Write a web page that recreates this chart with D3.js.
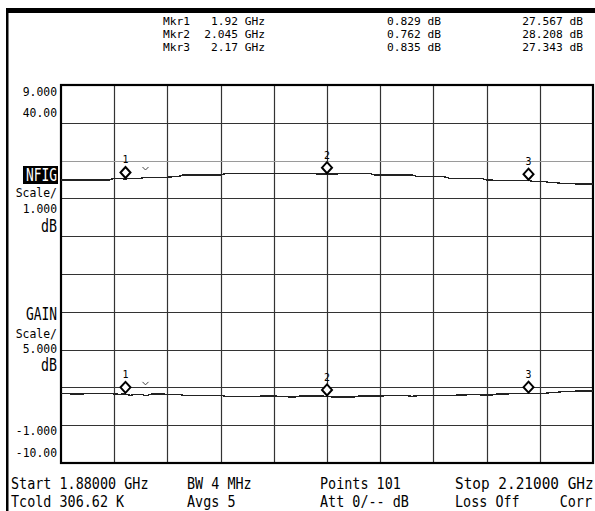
<!DOCTYPE html>
<html>
<head>
<meta charset="utf-8">
<script src="https://cdn.jsdelivr.net/npm/d3@7"></script>
<style>
  html, body { margin: 0; padding: 0; background: #fff; }
  svg { display: block; }
  text { font-family: "DejaVu Sans Mono", "Liberation Mono", monospace; fill: #000; }
</style>
</head>
<body>
<script>
// Sweep setup
const sweepStart = 1.88;   // GHz
const sweepStop = 2.21;    // GHz
const sweepPoints = 101;

// Noise figure trace (dB), one value per sweep point
const nfigTrace = [
  0.844, 0.844, 0.825, 0.825, 0.825, 0.844, 0.844, 0.835, 0.844, 0.844,
  0.825, 0.817, 0.825, 0.791, 0.817, 0.817, 0.780, 0.825, 0.825, 0.825,
  0.817, 0.817, 0.817, 0.791, 0.791, 0.791, 0.791, 0.791, 0.791, 0.791,
  0.791, 0.764, 0.764, 0.764, 0.764, 0.764, 0.764, 0.764, 0.772, 0.772,
  0.772, 0.764, 0.764, 0.746, 0.746, 0.772, 0.772, 0.772, 0.772, 0.772,
  0.762, 0.746, 0.746, 0.746, 0.746, 0.746, 0.772, 0.772, 0.772, 0.772,
  0.772, 0.780, 0.780, 0.780, 0.780, 0.780, 0.764, 0.780, 0.780, 0.780,
  0.791, 0.791, 0.791, 0.791, 0.791, 0.799, 0.799, 0.817, 0.817, 0.799,
  0.799, 0.799, 0.825, 0.825, 0.825, 0.844, 0.844, 0.835, 0.835, 0.844,
  0.844, 0.844, 0.860, 0.860, 0.886, 0.886, 0.886, 0.905, 0.905, 0.905,
  0.905
];

// Gain trace (dB), one value per sweep point
const gainTrace = [
  27.43, 27.43, 27.43, 27.43, 27.43, 27.43, 27.43, 27.43, 27.43, 27.43,
  27.66, 27.64, 27.57, 27.64, 27.66, 27.66, 27.80, 27.80, 27.80, 27.80,
  27.80, 27.87, 27.87, 28.10, 28.10, 28.10, 28.10, 28.10, 28.10, 28.10,
  28.10, 28.30, 28.30, 28.30, 28.30, 28.30, 28.30, 28.30, 28.30, 28.30,
  28.30, 28.30, 28.30, 28.30, 28.30, 28.30, 28.30, 28.28, 28.25, 28.22,
  28.21, 28.22, 28.25, 28.28, 28.30, 28.30, 28.30, 28.30, 28.30, 28.10,
  28.10, 28.10, 28.10, 28.10, 28.10, 28.10, 28.10, 27.87, 27.87, 27.87,
  27.87, 27.87, 27.87, 27.66, 27.66, 27.66, 27.66, 27.66, 27.66, 27.66,
  27.43, 27.43, 27.34, 27.34, 27.34, 27.34, 27.34, 27.34, 27.34, 27.21,
  27.21, 27.21, 27.08, 27.08, 27.00, 27.00, 27.00, 26.90, 26.90, 26.90,
  26.90
];

// Markers
const markerNames = ["Mkr1", "Mkr2", "Mkr3"];
const markerFreqs = [1.92, 2.045, 2.17];          // GHz
const markerFreqLabels = ["1.92 GHz", "2.045 GHz", "2.17 GHz"];
const markerNfig = [0.829, 0.762, 0.835];         // dB
const markerGain = [27.567, 28.208, 27.343];      // dB

// Vertical scales: NFIG ref 9.000, 1 dB/div; GAIN ref 40.00, 5 dB/div
const nfigScaleLabels = ["9.000", "-1.000"];
const gainScaleLabels = ["40.00", "-10.00"];
const nfigDomain = [-1, 9];
const gainDomain = [-10, 40];

// Status lines under the graticule
const statusRow1 = ["Start 1.88000 GHz", "BW 4 MHz", "Points 101", "Stop 2.21000 GHz"];
const statusRow2 = ["Tcold 306.62 K", "Avgs 5", "Att 0/-- dB", "Loss Off", "Corr"];

const W = 595, H = 511;
const plot = { left: 61, right: 593, top: 85, bottom: 463 };

const svg = d3.select("body").append("svg")
  .attr("width", W).attr("height", H)
  .attr("viewBox", `0 0 ${W} ${H}`);

svg.append("rect").attr("width", W).attr("height", H).attr("fill", "#fff");

// Screen frame (top bar + left edge)
svg.append("rect").attr("x", 6).attr("y", 8).attr("width", W - 6).attr("height", 5).attr("fill", "#000");
svg.append("rect").attr("x", 6).attr("y", 8).attr("width", 2.5).attr("height", H - 8).attr("fill", "#000");

const x = d3.scaleLinear().domain([sweepStart, sweepStop]).range([plot.left, plot.right]);
const yN = d3.scaleLinear().domain(nfigDomain).range([plot.bottom, plot.top]);
const yG = d3.scaleLinear().domain(gainDomain).range([plot.bottom, plot.top]);

const freqs = d3.range(sweepPoints).map(i => sweepStart + i * (sweepStop - sweepStart) / (sweepPoints - 1));

// Condensed text helper
function label(g, px, py, str, opt = {}) {
  const size = opt.size || 13, sx = opt.sx || 0.9;
  return g.append("text")
    .attr("transform", `translate(${px},${py}) scale(${sx},1)`)
    .attr("text-anchor", opt.anchor || "start")
    .style("font-size", size + "px")
    .style("fill", opt.fill || "#000")
    .text(str);
}

// Graticule
const grid = svg.append("g");
const xDivs = d3.range(11).map(i => sweepStart + i * (sweepStop - sweepStart) / 10);
const yDivs = d3.range(nfigDomain[0], nfigDomain[1] + 1);

grid.selectAll("line.v").data(xDivs.slice(1, -1)).join("line")
  .attr("x1", d => Math.round(x(d)) + 0.5).attr("x2", d => Math.round(x(d)) + 0.5)
  .attr("y1", plot.top).attr("y2", plot.bottom)
  .attr("stroke", "#333").attr("stroke-width", 1.2);

grid.selectAll("line.h").data(yDivs.slice(1, -1)).join("line")
  .attr("x1", plot.left).attr("x2", plot.right)
  .attr("y1", d => Math.round(yN(d)) + 0.5).attr("y2", d => Math.round(yN(d)) + 0.5)
  .attr("stroke", d => d === 7 ? "#9a9a9a" : "#333")
  .attr("stroke-width", d => d === 7 ? 1 : 1.2);

svg.append("rect")
  .attr("x", plot.left).attr("y", plot.top)
  .attr("width", plot.right - plot.left).attr("height", plot.bottom - plot.top)
  .attr("fill", "none").attr("stroke", "#000").attr("stroke-width", 2.2);

// Traces
const lineN = d3.line().x((d, i) => x(freqs[i])).y(d => yN(d));
const lineG = d3.line().x((d, i) => x(freqs[i])).y(d => yG(d));

svg.append("path").datum(gainTrace).attr("d", lineG)
  .attr("fill", "none").attr("stroke", "#222").attr("stroke-width", 1.4)
  .attr("shape-rendering", "crispEdges");
svg.append("path").datum(nfigTrace).attr("d", lineN)
  .attr("fill", "none").attr("stroke", "#222").attr("stroke-width", 1.4)
  .attr("shape-rendering", "crispEdges");

// Marker diamonds, sitting just above the trace point
function drawMarkers(values, yScale) {
  const g = svg.append("g");
  values.forEach((v, k) => {
    const cx = x(markerFreqs[k]);
    const cy = yScale(v) - 6.5;
    g.append("path")
      .attr("d", `M${cx},${cy - 5.5}L${cx + 5},${cy}L${cx},${cy + 5.5}L${cx - 5},${cy}Z`)
      .attr("fill", "#fff").attr("stroke", "#000").attr("stroke-width", 2);
    label(g, cx, cy - 9, String(k + 1), { size: 11, sx: 0.9, anchor: "middle" });
  });
  // active-marker caret next to marker 1
  const cx = x(markerFreqs[0]) + 20, cy = yScale(values[0]) - 12;
  g.append("path").attr("d", `M${cx - 3},${cy}L${cx},${cy + 3}L${cx + 3},${cy}`)
    .attr("fill", "none").attr("stroke", "#444").attr("stroke-width", 1);
}
drawMarkers(markerGain, yG);
drawMarkers(markerNfig, yN);

// Marker readout table
const head = svg.append("g");
const rowY = [25, 38, 51];
markerNames.forEach((m, k) => {
  label(head, 163, rowY[k], m, { size: 11, sx: 1.02 });
  label(head, 265, rowY[k], markerFreqLabels[k], { size: 11, sx: 1.02, anchor: "end" });
  label(head, 441, rowY[k], markerNfig[k].toFixed(3) + " dB", { size: 11, sx: 1.02, anchor: "end" });
  label(head, 583, rowY[k], markerGain[k].toFixed(3) + " dB", { size: 11, sx: 1.02, anchor: "end" });
});

// Left-hand scale annotations
const side = svg.append("g");
label(side, 57, 96, nfigScaleLabels[0], { size: 12, sx: 0.95, anchor: "end" });
label(side, 57, 117, gainScaleLabels[0], { size: 12, sx: 0.95, anchor: "end" });
side.append("rect").attr("x", 23).attr("y", 166).attr("width", 35).attr("height", 18).attr("fill", "#000");
label(side, 57, 181, "NFIG", { size: 17, sx: 0.76, anchor: "end", fill: "#fff" });
label(side, 57, 197, "Scale/", { size: 13, sx: 0.88, anchor: "end" });
label(side, 57, 213, "1.000", { size: 12, sx: 0.95, anchor: "end" });
label(side, 57, 232, "dB", { size: 17, sx: 0.78, anchor: "end" });
label(side, 57, 320, "GAIN", { size: 17, sx: 0.76, anchor: "end" });
label(side, 57, 338, "Scale/", { size: 13, sx: 0.88, anchor: "end" });
label(side, 57, 353, "5.000", { size: 12, sx: 0.95, anchor: "end" });
label(side, 57, 371, "dB", { size: 17, sx: 0.78, anchor: "end" });
label(side, 57, 435, nfigScaleLabels[1], { size: 12, sx: 0.95, anchor: "end" });
label(side, 57, 457, gainScaleLabels[1], { size: 12, sx: 0.95, anchor: "end" });

// Status lines
const foot = svg.append("g");
const colX = [11, 187, 320, 455];
statusRow1.forEach((s, k) => label(foot, colX[k], 489, s, { size: 16, sx: k === 3 ? 0.9 : 0.84 }));
statusRow2.slice(0, 4).forEach((s, k) => label(foot, colX[k], 507, s, { size: 16, sx: 0.84 }));
label(foot, 592, 507, statusRow2[4], { size: 16, sx: 0.84, anchor: "end" });
</script>
</body>
</html>
